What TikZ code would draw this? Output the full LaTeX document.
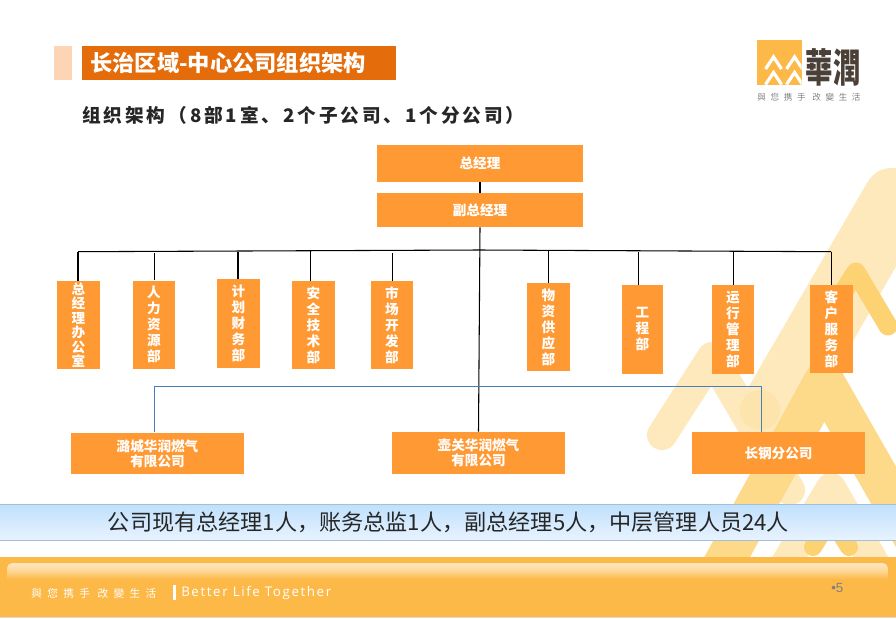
\documentclass[tikz,border=0pt]{standalone}
\usepackage{fontspec}
\setmainfont{Noto Sans CJK SC}
\newfontfamily\cjktc{Noto Sans CJK TC}
\newfontfamily\cjkspaced[LetterSpace=15.5]{Noto Sans CJK SC}
\newfontfamily\cjkwide[LetterSpace=50]{Noto Sans CJK TC}
\newfontfamily\latwide[LetterSpace=12]{Open Sans}
\newfontfamily\tagfont[LetterSpace=55]{Noto Sans CJK TC}
\newfontfamily\arialish{Liberation Sans}
\definecolor{boxor}{HTML}{FF9933}
\definecolor{titleor}{HTML}{E46C0A}
\definecolor{titlepale}{HTML}{FDD5B5}
\definecolor{wmpale}{HTML}{FDE9BB}
\definecolor{wmblob}{HTML}{FDE3AC}
\definecolor{wmmid}{HTML}{FDD98A}
\definecolor{wmdark}{HTML}{FDD272}
\definecolor{footor}{HTML}{FDB948}
\definecolor{footpale}{HTML}{FEE6BE}
\definecolor{linkblue}{HTML}{4A7EBB}
\definecolor{bartop}{HTML}{BFE0FC}
\definecolor{barbot}{HTML}{E8F3FF}
\definecolor{barline}{HTML}{A3BFDC}
\definecolor{brandink}{HTML}{4A4038}
\tikzset{
  x=0.75pt,y=-0.75pt,
  orgbox/.style={fill=boxor,draw=none,inner sep=0pt,align=center,text=white,font=\fontsize{10.2pt}{12pt}\selectfont\bfseries},
  vbox/.style={orgbox,minimum width=42*0.75pt,minimum height=88*0.75pt},
  hbox/.style={orgbox,minimum width=173*0.75pt,minimum height=41.5*0.75pt,font=\fontsize{10.2pt}{11.5pt}\selectfont\bfseries},
  topbox/.style={orgbox,minimum width=206*0.75pt},
  link/.style={draw=black,line width=0.8pt},
  bluelink/.style={draw=linkblue,line width=0.75pt},
  band/.style={line cap=round,line join=round,line width=#1*0.75pt},
  mark chevron/.style={draw=white,line width=2.4pt,line join=miter}
}
\begin{document}
\begin{tikzpicture}
\useasboundingbox (0,0) rectangle (896,618);
\fill[white] (0,0) rectangle (896,618);
% watermark
\begin{scope}
\clip (0,0) rectangle (896,618);
\fill[wmpale] (741,400) -- (867,183) .. controls (873,173) and (881,168) .. (892,168) -- (930,168) -- (930,263) -- (898,263) -- (819,400) -- (790,440) -- (760,430) -- cycle;
\draw[band=30,wmpale] (662,435) -- (712,357) -- (790,490);
\fill[wmblob] (760,410) circle[radius=20];
\draw[band=40,wmmid] (720,570) -- (824,381) -- (935,575);
\draw[band=30,wmpale] (770,590) -- (831,488) -- (890,590);
\draw[band=18,wmdark] (813,547) -- (831,518) -- (849,547);
\draw[band=19,wmdark] (825,320) -- (856,272) -- (888,326);
\end{scope}
% header
\fill[titlepale] (54,46) rectangle (71.5,80);
\node[fill=titleor,minimum width=314*0.75pt,minimum height=34*0.75pt,inner sep=0pt] (title) at (239,63) {};
\node[anchor=west,inner sep=0pt,text=white,font=\fontsize{16.7pt}{17pt}\selectfont\bfseries] (titletext) at (90,63) {长治区域-中心公司组织架构};
\node[anchor=west,inner sep=0pt,text=black!85,font=\cjkspaced\fontsize{14pt}{15pt}\selectfont\bfseries] (subtitle) at (82,115) {组织架构（8部1室、2个子公司、1个分公司）};
% logo
\fill[footor] (757,40) rectangle (801.5,85);
\begin{scope}
\clip (757,40) rectangle (801.5,85);
\foreach \cx in {773.5,794.5} \foreach \cy in {57,72.5}
  \draw[mark chevron] (\cx-8,\cy+12) -- (\cx,\cy) -- (\cx+8,\cy+12);
\end{scope}
\node[inner sep=0pt,anchor=center,text=brandink,font=\cjktc\fontsize{20.5pt}{21pt}\selectfont\bfseries] (brand) at (833,67) {\scalebox{1}[1.45]{華潤}};
\node[inner sep=0pt,text=black!50,font=\tagfont\fontsize{6.4pt}{7pt}\selectfont] (tagline) at (809,97) {與您携手 改變生活};
% org boxes
\node[topbox,minimum height=37*0.75pt] (gm) at (480,163.5) {总经理};
\node[topbox,minimum height=34*0.75pt] (vgm) at (480,210) {副总经理};
\node[vbox,minimum width=43*0.75pt,font=\fontsize{10.2pt}{10.9pt}\selectfont\bfseries] (n1) at (78.5,325) {总\\经\\理\\办\\公\\室};
\node[vbox] (n2) at (154,324.5) {人\\力\\资\\源\\部};
\node[vbox,minimum width=43*0.75pt,minimum height=89*0.75pt] (n3) at (238.5,323.5) {计\\划\\财\\务\\部};
\node[vbox,minimum width=43*0.75pt] (n4) at (313.5,325) {安\\全\\技\\术\\部};
\node[vbox] (n5) at (392,325) {市\\场\\开\\发\\部};
\node[vbox,minimum width=43*0.75pt] (n6) at (548.5,327) {物\\资\\供\\应\\部};
\node[vbox,minimum width=41*0.75pt,minimum height=89*0.75pt] (n7) at (642.5,329.5) {工\\程\\部};
\node[vbox,minimum height=89*0.75pt] (n8) at (733,329.5) {运\\行\\管\\理\\部};
\node[vbox,minimum width=43*0.75pt] (n9) at (831.5,329) {客\\户\\服\\务\\部};
\node[hbox] (lc) at (157.5,453.5) {潞城华润燃气\\有限公司};
\node[hbox,minimum height=42*0.75pt] (hg) at (478.5,453) {壶关华润燃气\\有限公司};
\node[hbox,minimum height=42*0.75pt] (cg) at (778.5,453) {长钢分公司};
% connectors
\coordinate (busL) at (78,251.7);
\coordinate (busM) at (479.5,250);
\coordinate (busR) at (831,251.7);
\draw[link] (gm) -- (vgm);
\draw[link] (vgm.south) -- (hg.north);
\draw[link] (busL) -- (busM) -- (busR);
\coordinate (t1) at (78,251.7);
\coordinate (t2) at (154.3,253);
\coordinate (t3) at (238,252);
\coordinate (t4) at (310.3,251);
\coordinate (t5) at (392.3,253);
\coordinate (t6) at (548.3,250.5);
\coordinate (t7) at (638.3,252);
\coordinate (t8) at (733.3,251);
\coordinate (t9) at (831.3,251.7);
\foreach \i in {1,...,9} \draw[link] (t\i) -- (t\i |- n\i.north);
\coordinate (tapL) at (154.3,386.5);
\coordinate (tapR) at (761.7,386.5);
\draw[bluelink] (tapL |- lc.north) -- (tapL) -- (tapR) -- (tapR |- cg.north);
% summary bar
\node[minimum width=898*0.75pt,minimum height=36*0.75pt,inner sep=0pt,draw=barline,line width=0.75pt,top color=bartop,bottom color=barbot] (bar) at (448,522) {};
\node[inner sep=0pt,text=black!85,font=\fontsize{16.6pt}{17pt}\selectfont] (bartext) at (448.5,522.5) {公司现有总经理1人，账务总监1人，副总经理5人，中层管理人员24人};
% footer
\fill[footor] (0,557) rectangle (896,617);
\fill[black!15] (0,617) rectangle (896,618);
\begin{scope}
\clip[rounded corners=4pt] (7,563) rectangle (888,590);
\foreach \i in {0,...,15} {
  \pgfmathtruncatemacro{\mixp}{100-100*(\i/16)^1.4}
  \fill[footpale!\mixp!footor] (7,563+\i) rectangle (888,564.3+\i);
}
\end{scope}
\node[anchor=west,inner sep=0pt,text=white,font=\cjkwide\fontsize{8pt}{9pt}\selectfont] (slogan) at (31,593) {與您携手 改變生活};
\fill[white] (172.5,585) rectangle (175.5,600);
\node[anchor=west,inner sep=0pt,text=white,font=\latwide\fontsize{10pt}{11pt}\selectfont] (english) at (181,593) {Better Life Together};
\node[anchor=west,inner sep=0pt,text=black!50,font=\arialish\fontsize{10pt}{10pt}\selectfont] (pageno) at (831,588) {•5};
\end{tikzpicture}
\end{document}
